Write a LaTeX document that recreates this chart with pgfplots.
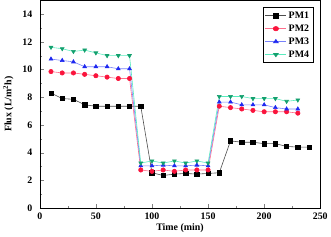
\documentclass[border=0pt]{standalone}
\usepackage{pgfplots}
\pgfplotsset{compat=1.18}
\usepackage{fontspec}
\setmainfont{Liberation Serif}
\definecolor{c2}{RGB}{250,20,60}
\definecolor{c2l}{RGB}{255,110,140}
\definecolor{c3}{RGB}{30,40,240}
\definecolor{c3l}{RGB}{120,130,250}
\definecolor{c4}{RGB}{20,160,110}
\definecolor{c4l}{RGB}{90,235,190}
\begin{document}
\begin{tikzpicture}
\begin{axis}[
  scale only axis, width=282bp, height=209bp,
  xmin=0, xmax=250, ymin=0, ymax=15,
  xtick={0,50,...,250}, ytick={0,2,...,14},
  minor x tick num=1, minor y tick num=1,
  tick align=inside, tick pos=left,
  major tick length=4bp, minor tick length=2.5bp,
  font=\bfseries\normalsize,
  ticklabel style={font=\bfseries\normalsize},
  yticklabel style={xshift=-4bp},
  xticklabel style={yshift=-1bp},
  /pgf/number format/assume math mode=true,
  xlabel={Time (min)}, ylabel={Flux (L/m$^{\mathbf{2}}$h)},
  xlabel style={yshift=2pt}, ylabel style={yshift=2pt},
  legend style={at={(0.975,0.965)}, anchor=north east, font=\bfseries\normalsize, draw=black, row sep=1pt, inner sep=2pt},
  legend cell align=left,
  legend image post style={xscale=1.25},
  every axis plot/.append style={line width=0.6pt, mark size=2.2pt},
]
\addplot[color=black!70, mark=square*, mark options={fill=black, draw=black}] coordinates {
(10,8.3)(20,7.9)(30,7.85)(40,7.45)(50,7.35)(60,7.35)(70,7.35)(80,7.35)(90,7.35)(100,2.55)(110,2.35)(120,2.45)(130,2.5)(140,2.45)(150,2.5)(160,2.55)(170,4.85)(180,4.75)(190,4.75)(200,4.65)(210,4.65)(220,4.45)(230,4.4)(240,4.4)};
\addlegendentry{PM1}
\addplot[color=c2l, mark=*, mark options={fill=c2, draw=c2}] coordinates {
(10,9.85)(20,9.75)(30,9.75)(40,9.65)(50,9.55)(60,9.45)(70,9.35)(80,9.35)(90,2.75)(100,2.65)(110,2.75)(120,2.65)(130,2.75)(140,2.75)(150,2.75)(160,7.35)(170,7.25)(180,7.15)(190,7.05)(200,6.95)(210,6.95)(220,6.95)(230,6.85)};
\addlegendentry{PM2}
\addplot[color=c3l, mark=triangle*, mark options={fill=c3, draw=c3}] coordinates {
(10,10.75)(20,10.65)(30,10.55)(40,10.2)(50,10.2)(60,10.2)(70,10.05)(80,10.05)(90,3.05)(100,3.05)(110,3.1)(120,3.05)(130,3.05)(140,3.1)(150,3.05)(160,7.65)(170,7.65)(180,7.45)(190,7.45)(200,7.45)(210,7.25)(220,7.15)(230,7.15)};
\addlegendentry{PM3}
\addplot[color=c4l, mark=triangle*, mark options={fill=c4, draw=c4, rotate=180}] coordinates {
(10,11.6)(20,11.5)(30,11.3)(40,11.4)(50,11.2)(60,11.0)(70,11.0)(80,11.0)(90,3.25)(100,3.4)(110,3.25)(120,3.4)(130,3.25)(140,3.4)(150,3.25)(160,8.05)(170,8.05)(180,8.05)(190,7.9)(200,7.9)(210,7.9)(220,7.7)(230,7.8)};
\addlegendentry{PM4}
\end{axis}
\end{tikzpicture}
\end{document}
